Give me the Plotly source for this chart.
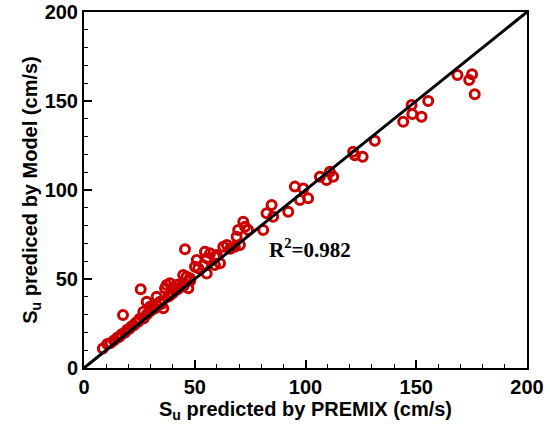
import plotly.graph_objects as go

premix = [8.5, 10.5, 12, 13.5, 15, 16, 17.6, 17, 18.5, 19.5, 20.5, 21.5, 22.5, 23.5, 24.5, 25.6, 25,
          26.8, 27, 28.3, 28.3, 29.8, 30, 31, 32, 32.8, 33, 34.3, 35, 35.8, 36.6, 37.3, 38, 38.8, 39,
          40, 40, 41.8, 42, 43, 43, 44.8, 45, 45.6, 46.3, 47.1, 47.8, 48, 50.1, 50.9, 51.6, 53.8, 54.6,
          55.4, 55.4, 56.9, 59.1, 59.1, 59.9, 61.4, 62.9, 64.5, 66, 68.1, 68.9, 69.6, 70.4, 71.9, 72.7,
          74.1, 80.9, 82.4, 84.7, 85.4, 92.2, 95.2, 97.5, 99, 101.2, 106.5, 109.5, 111, 112.5, 121.5,
          122.3, 125.8, 131.3, 144.1, 147.9, 148.2, 152.4, 155.4, 168.6, 173.9, 175.2, 176.4]
model = [11, 13.5, 14, 15.5, 17, 17.5, 29.8, 19, 20, 21.5, 22, 23.5, 24, 25.5, 26, 44.2, 27.5,
         31.6, 28, 30, 37.2, 34.4, 32, 33, 33.5, 40, 35, 37.2, 36, 33.5, 44.8, 46.6, 40, 47.6, 41,
         42, 45, 46.6, 44, 45, 47, 52.2, 46, 66.7, 51.3, 44.8, 50.4, 49, 56.9, 60.7, 56, 57.9, 65.3,
         53.1, 61.6, 64.4, 57.9, 62.5, 63.5, 58.8, 68.1, 69.1, 67, 68.1, 73.8, 77.5, 69.1, 82.2, 79.4,
         77.5, 77.5, 86.9, 91.6, 85, 87.8, 101.9, 94.4, 100.9, 95.3, 107.5, 105.6, 110.3, 107.5, 121.5,
         119.5, 118.7, 127.7, 138.4, 147.8, 142.7, 141.2, 150, 164.6, 161.8, 165, 153.8]
diag = [0, 200]
ticks = [0, 50, 100, 150, 200]

fig = go.Figure()
fig.add_trace(go.Scatter(
    x=premix, y=model, mode="markers",
    marker=dict(symbol="circle-open", size=9, color="#cc0000",
                line=dict(width=3, color="#cc0000")),
    showlegend=False, cliponaxis=False))
fig.add_trace(go.Scatter(
    x=diag, y=diag, mode="lines",
    line=dict(color="black", width=3), showlegend=False))

axis_common = dict(
    range=[0, 200], tickvals=ticks, ticks="inside", ticklen=8, tickwidth=1.5,
    tickcolor="black", showline=True, linecolor="black", linewidth=2, mirror=True,
    showgrid=False, zeroline=False, automargin=False,
    tickfont=dict(family="Liberation Sans", size=20, color="black", weight="bold"),
    minor=dict(ticks="inside", dtick=10, ticklen=4, tickwidth=1, tickcolor="black"),
)

fig.update_xaxes(**axis_common,
                 title=dict(text="S<sub>u</sub> predicted by PREMIX (cm/s)", standoff=2,
                            font=dict(family="Liberation Sans", size=20, color="black", weight="bold")))
fig.update_yaxes(**axis_common,
                 title=dict(text="S<sub>u</sub> prediced by Model (cm/s)", standoff=2,
                            font=dict(family="Liberation Sans", size=20, color="black", weight="bold")))

fig.add_annotation(x=102, y=67.4, xref="x", yref="y", showarrow=False,
                   text="R<sup>2</sup>=0.982",
                   font=dict(family="Liberation Serif", size=21, color="black", weight="bold"))

fig.update_layout(width=550, height=424, margin=dict(l=84, r=23, t=12, b=56),
                  plot_bgcolor="white", paper_bgcolor="white")

fig.write_html("out.html", config={"displayModeBar": False},
               post_script="document.body.style.margin='0';document.body.style.overflow='hidden';")
